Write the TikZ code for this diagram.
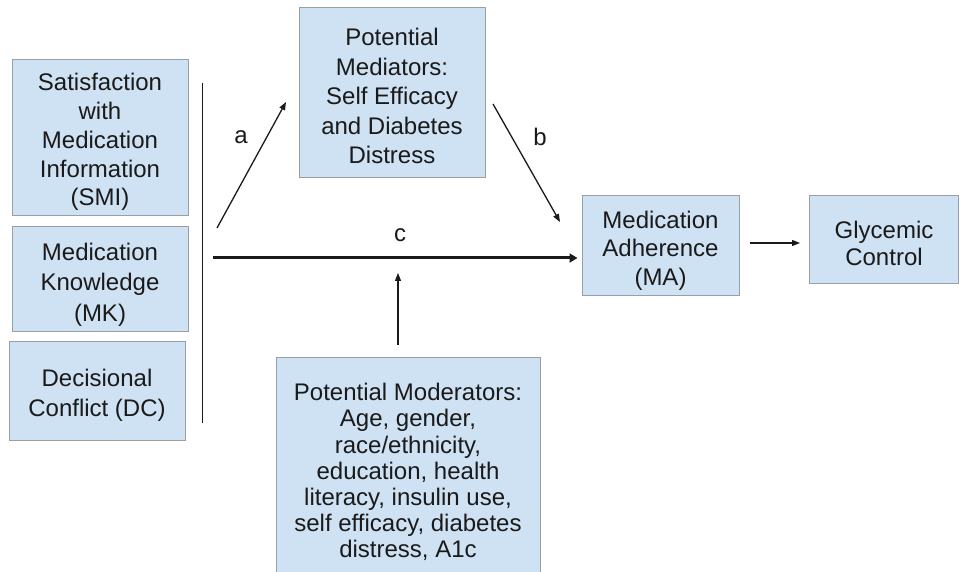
\documentclass[tikz,border=0pt]{standalone}
\usepackage{fontspec}
\setmainfont{Liberation Sans}
\usetikzlibrary{arrows.meta,calc}
\definecolor{boxfill}{HTML}{CFE2F3}
\definecolor{boxline}{HTML}{9A9FA5}
\definecolor{ink}{HTML}{1A1A1A}
\begin{document}
\begin{tikzpicture}[x=1pt,y=-1pt,
  box/.style={draw=boxline,line width=1pt,fill=boxfill,inner sep=0pt},
  txt/.style={align=center,text=ink,inner sep=0pt,font=\fontsize{24}{#1}\selectfont},
  txt/.default=29,
  lbl/.style={text=ink,font=\fontsize{24}{26.7}\selectfont,inner sep=0pt},
  arr/.style={draw=ink,line width=1.3pt,-{Triangle[length=8pt,width=6pt]}},
  thickarr/.style={draw=ink,line width=3pt,-{Triangle[length=8pt,width=9pt]}}]
\clip (0,0) rectangle (959,572);
\fill[white] (0,0) rectangle (959,572);

\node[box,minimum width=176,minimum height=156] (smi) at (100,138) {};
\node[txt=28.8] (smit) at ([yshift=-4pt]smi.center)
  {Satisfaction\\with\\Medication\\Information\\(SMI)};
\node[box,minimum width=176,minimum height=104] (mk) at (100,279) {};
\node[txt=30.5] (mkt) at ([yshift=-5.5pt]mk.center)
  {Medication\\Knowledge\\(MK)};
\node[box,minimum width=176,minimum height=99] (dc) at (97,390.5) {};
\node[txt=30] (dct) at ([yshift=-5pt]dc.center)
  {Decisional\\Conflict (DC)};
\node[box,minimum width=186,minimum height=170] (med) at (392,93) {};
\node[txt=29.5] (medt) at ([yshift=-3pt]med.center)
  {Potential\\Mediators:\\Self Efficacy\\and Diabetes\\Distress};
\node[box,minimum width=157,minimum height=100] (ma) at (660.5,246) {};
\node[txt=28.5] (mat) at ([yshift=-4.5pt]ma.center)
  {Medication\\Adherence\\(MA)};
\node[box,minimum width=149,minimum height=88] (gc) at (884,240) {};
\node[txt=27] (gct) at ([yshift=-3pt]gc.center)
  {Glycemic\\Control};
\node[box,minimum width=264,minimum height=228] (mod) at (408,471) {};
\node[txt=26.1] (modt) at ([yshift=-1pt]mod.center)
  {Potential Moderators:\\Age, gender,\\race/ethnicity,\\education, health\\literacy, insulin use,\\self efficacy, diabetes\\distress, A1c};

\coordinate (vtop) at (202,83);
\coordinate (vbot) at (202,423);
\draw[draw=ink,line width=1pt] (vtop) -- (vbot);

\coordinate (astart) at (217,228);
\coordinate (aend) at (286,102);
\draw[arr] (astart) -- (aend);

\coordinate (bstart) at (493,104);
\coordinate (bend) at (560,222);
\draw[arr] (bstart) -- (bend);

\coordinate (cstart) at (213,258);
\draw[thickarr] (cstart) -- ($(ma.west |- cstart)+(-4,0)$);

\coordinate (mstart) at (398,345);
\coordinate (mend) at (398,273);
\draw[arr] (mstart) -- (mend);

\coordinate (gstart) at (750,243);
\draw[arr] (gstart) -- ($(gc.west |- gstart)+(-9,0)$);

\node[lbl] (la) at (241,137) {a};
\node[lbl] (lb) at (540,137) {b};
\node[lbl] (lc) at (400,235) {c};
\end{tikzpicture}
\end{document}
